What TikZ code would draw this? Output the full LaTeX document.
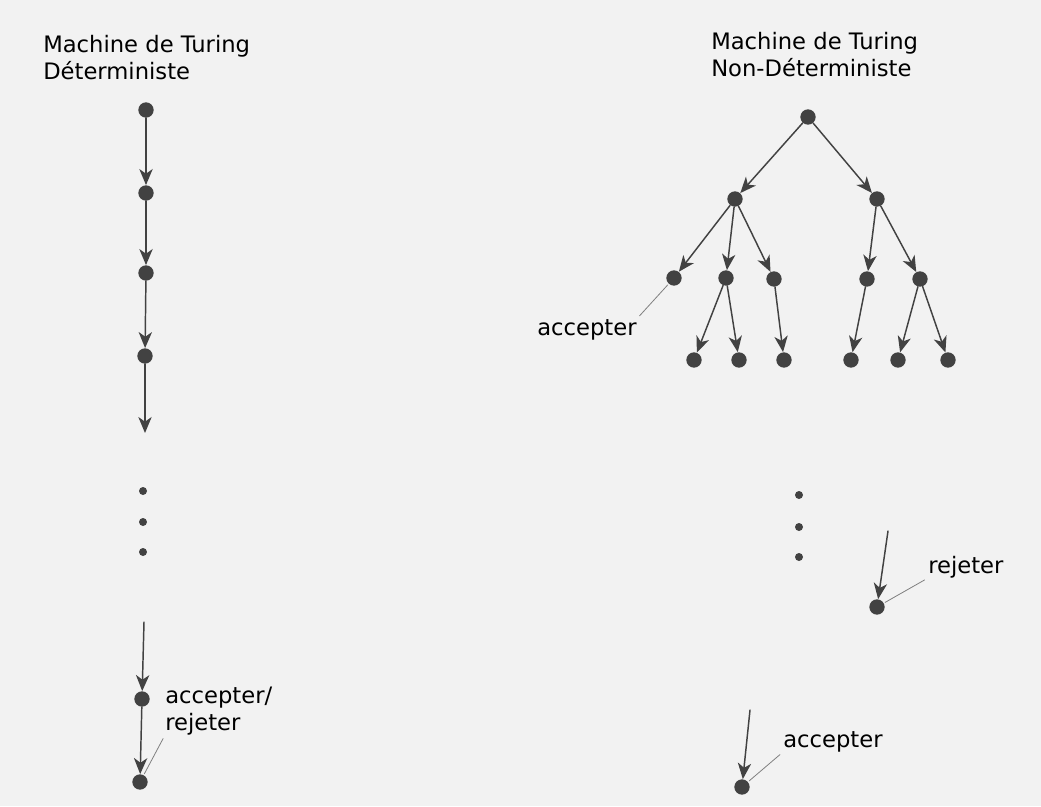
\documentclass[tikz,border=0pt]{standalone}
\usepackage{fontspec}
\setmainfont{DejaVu Sans}
\usetikzlibrary{arrows.meta}
\definecolor{fond}{RGB}{242,242,242}
\definecolor{encre}{RGB}{66,66,66}
\tikzset{
	etat/.style={circle,fill=encre,inner sep=0pt,minimum size=11.5pt},
	pointille/.style={circle,fill=encre,inner sep=0pt,minimum size=6pt},
	fleche/.style={->,encre,line width=1.1pt},
	renvoi/.style={gray,line width=0.6pt,shorten <=1pt,shorten >=3pt},
	etiquette/.style={anchor=base west,inner sep=0pt}
}
\begin{document}
\begin{tikzpicture}[x=0.75pt,y=-0.75pt,>={Stealth[length=12pt,width=10pt,inset=3.5pt]}, font=\fontsize{17}{20}\selectfont, line join=round, line cap=round]
	\fill[fond] (0,0) rectangle (1041,806);
	% machine deterministe
	\node[anchor=north west,align=left,inner sep=0pt] (titreD) at (43,35) {Machine de Turing\\Déterministe};
	\node[etat] (d1) at (146,110) {};
	\node[etat] (d2) at (146,193) {};
	\node[etat] (d3) at (146,273) {};
	\node[etat] (d4) at (145,356) {};
	\coordinate (d4bas) at (145,433);
	\foreach \y [count=\i] in {491,522,552} \node[pointille] (pd\i) at (143,\y) {};
	\coordinate (d5haut) at (144,622);
	\node[etat] (d5) at (142,699) {};
	\node[etat] (d6) at (140,782) {};
	\draw[fleche] (d1)--(d2);
	\draw[fleche] (d2)--(d3);
	\draw[fleche] (d3)--(d4);
	\draw[fleche] (d4)--(d4bas);
	\draw[fleche] (d5haut)--(d5);
	\draw[fleche] (d5)--(d6);
	\node[etiquette,align=left] (finD) at (165,730) {accepter/\\rejeter};
	\draw[renvoi] (d6)--(finD.south west);
	% machine non deterministe
	\node[anchor=north west,align=left,inner sep=0pt] (titreN) at (711,32) {Machine de Turing\\Non-Déterministe};
	\node[etat] (r) at (808,117) {};
	\node[etat] (a) at (735,199) {};
	\node[etat] (b) at (877,199) {};
	\node[etat] (a1) at (674,278) {};
	\node[etat] (a2) at (726,278) {};
	\node[etat] (a3) at (774,279) {};
	\node[etat] (b1) at (867,279) {};
	\node[etat] (b2) at (920,279) {};
	\node[etat] (a21) at (694,360) {};
	\node[etat] (a22) at (739,360) {};
	\node[etat] (a31) at (784,360) {};
	\node[etat] (b11) at (851,360) {};
	\node[etat] (b21) at (898,360) {};
	\node[etat] (b22) at (948,360) {};
	\foreach \u/\v in {r/a,r/b,a/a1,a/a2,a/a3,b/b1,b/b2,a2/a21,a2/a22,a3/a31,b1/b11,b2/b21,b2/b22}
		\draw[fleche] (\u)--(\v);
	\node[etiquette] (accN) at (537,335) {accepter};
	\draw[renvoi] (a1)--(accN.north east);
	\foreach \y [count=\i] in {495,527,557} \node[pointille] (pn\i) at (799,\y) {};
	\coordinate (rejhaut) at (888,531);
	\node[etat] (rej) at (877,607) {};
	\draw[fleche] (rejhaut)--(rej);
	\node[etiquette] (rejN) at (928,573) {rejeter};
	\draw[renvoi] (rej)--(rejN.south west);
	\coordinate (acchaut) at (750,710);
	\node[etat] (acc) at (742,787) {};
	\draw[fleche] (acchaut)--(acc);
	\node[etiquette] (accB) at (783,747) {accepter};
	\draw[renvoi] (acc)--(accB.south west);
\end{tikzpicture}
\end{document}
